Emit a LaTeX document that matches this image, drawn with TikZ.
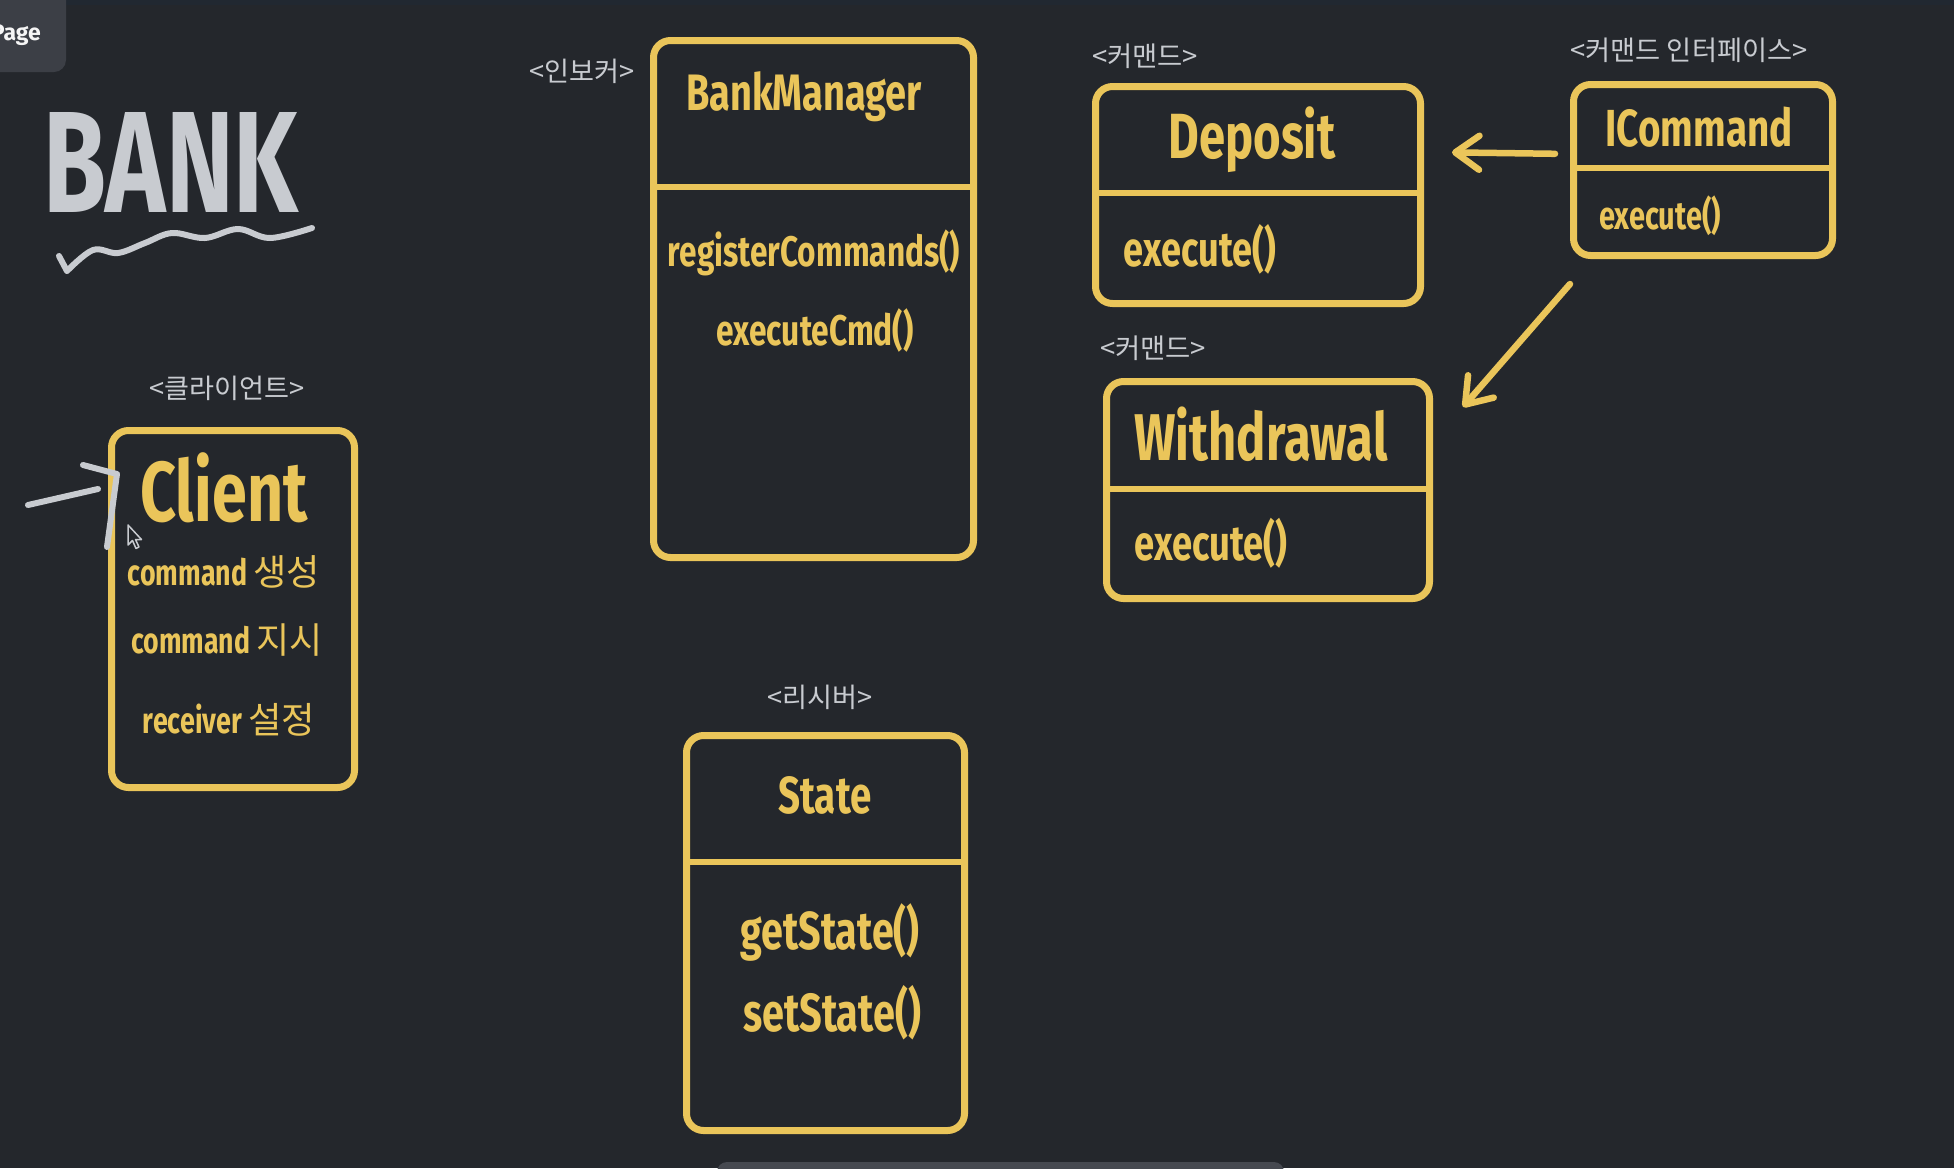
\documentclass[tikz,border=0pt]{standalone}
\usepackage{fontspec}
\setmainfont{Fira Sans}
\newfontfamily\hand{Fira Sans}[UprightFont=*-Bold, FakeBold=1.2]
\newfontfamily\kr{Noto Sans CJK KR}
\usetikzlibrary{arrows.meta}
\definecolor{bg}{RGB}{36,39,44}
\definecolor{topstrip}{RGB}{33,40,49}
\definecolor{ylw}{RGB}{234,197,90}
\definecolor{lgray}{RGB}{200,203,208}
\definecolor{tabgray}{RGB}{60,63,70}
\definecolor{bargray}{RGB}{70,73,80}
\newcommand\hw[2]{\resizebox{#1}{!}{\scalebox{0.74}[1]{\bfseries #2}}}
\newcommand\hwk[3]{\resizebox{#1}{!}{\scalebox{0.74}[1]{\bfseries #2}\,{\kr #3}}}
\newcommand\lbl[2]{\resizebox{#1}{!}{\kr #2}}
\tikzset{
  umlbox/.style={draw=ylw, line width=7pt, rounded corners=17pt, inner sep=0pt},
  divline/.style={draw=ylw, line width=6pt},
  ytext/.style={text=ylw, inner sep=0pt},
  gtext/.style={text=lgray, inner sep=0pt},
  arr/.style={draw=ylw, line width=6.5pt, line cap=round, line join=round,
    -{Straight Barb[length=24pt,width=34pt,round]}},
  gmark/.style={draw=lgray, line width=6pt, line cap=round, line join=round}
}
\begin{document}
\begin{tikzpicture}[x=1pt,y=-1pt]
\useasboundingbox (0,0) rectangle (1954,1168);
\fill[bg] (0,0) rectangle (1954,1168);
\fill[topstrip] (0,0) rectangle (1954,5);

% page tab
\fill[tabgray, rounded corners=12pt] (-20,-20) rectangle (66,72);
\node[anchor=east, text=white!92!gray, inner sep=0pt, font=\bfseries\fontsize{23}{23}\selectfont] (pg) at (41,35) {Page};

% bottom bar
\fill[bargray, rounded corners=10pt] (717,1162) rectangle (1284,1195);

% BANK title
\node[gtext] (bank) at (171,162) {\resizebox{255pt}{100pt}{\bfseries BANK}};
\draw[gmark] (59,256) -- (67,271) plot[smooth, tension=0.6] coordinates {(67,271) (93,250) (118,253) (145,243) (172,233) (205,238) (238,229) (270,238) (312,228)};

% client
\node[gtext] (lcl) at (227,388) {\lbl{155pt}{<클라이언트>}};
\node[umlbox, minimum width=243pt, minimum height=357pt] (cl) at (233,609) {};
\node[ytext] (tcl) at (224,488) {\hw{167pt}{Client}};
\node[ytext] (c1) at (224,572) {\hwk{192pt}{command}{생성}};
\node[ytext] (c2) at (227,640) {\hwk{191pt}{command}{지시}};
\node[ytext] (c3) at (229,720) {\hwk{172pt}{receiver}{설정}};
\draw[gmark] (28,505) -- (98,489);
\draw[gmark] (83,465) -- (117,474) -- (107,547);
\draw[lgray, fill=bg, line width=1.5pt, line join=round] (128,525) -- (128,545) -- (132.5,540.5) -- (136,548.5) -- (139,547) -- (135.5,539.5) -- (141.5,539.5) -- cycle;

% invoker
\node[gtext] (lbm) at (582,71) {\lbl{105pt}{<인보커>}};
\node[umlbox, minimum width=320pt, minimum height=517pt] (bm) at (813.5,299) {};
\coordinate (dvbm) at (0,187);
\draw[divline] (bm.west |- dvbm) -- (bm.east |- dvbm);
\node[ytext] (tbm) at (804,97) {\hw{236pt}{BankManager}};
\node[ytext] (bm1) at (814,253) {\hw{292pt}{registerCommands()}};
\node[ytext] (bm2) at (815,330) {\hw{197pt}{executeCmd()}};

% deposit
\node[gtext] (ldp) at (1145,56) {\lbl{106pt}{<커맨드>}};
\node[umlbox, minimum width=325pt, minimum height=217pt] (dp) at (1258,195) {};
\coordinate (dvdp) at (0,193);
\draw[divline] (dp.west |- dvdp) -- (dp.east |- dvdp);
\node[ytext] (tdp) at (1252,140) {\hw{167pt}{Deposit}};
\node[ytext] (dp1) at (1200,249) {\hw{152pt}{execute()}};

% icommand
\node[gtext] (lic) at (1689,50) {\lbl{237pt}{<커맨드 인터페이스>}};
\node[umlbox, minimum width=259pt, minimum height=171pt] (ic) at (1703,170) {};
\coordinate (dvic) at (0,168);
\draw[divline] (ic.west |- dvic) -- (ic.east |- dvic);
\node[ytext] (tic) at (1699,127) {\hw{187pt}{ICommand}};
\node[ytext] (ic1) at (1660,216) {\hw{122pt}{execute()}};

% withdrawal
\node[gtext] (lwd) at (1153,348) {\lbl{106pt}{<커맨드>}};
\node[umlbox, minimum width=323pt, minimum height=217pt] (wd) at (1268,490) {};
\coordinate (dvwd) at (0,489);
\draw[divline] (wd.west |- dvwd) -- (wd.east |- dvwd);
\node[ytext] (twd) at (1261,434) {\hw{253pt}{Withdrawal}};
\node[ytext] (wd1) at (1211,543) {\hw{153pt}{execute()}};

% receiver
\node[gtext] (lst) at (820,697) {\lbl{105pt}{<리시버>}};
\node[umlbox, minimum width=278pt, minimum height=395pt] (st) at (825.5,933) {};
\coordinate (dvst) at (0,862);
\draw[divline] (st.west |- dvst) -- (st.east |- dvst);
\node[ytext] (tst) at (825,795) {\hw{93pt}{State}};
\node[ytext] (st1) at (830,932) {\hw{179pt}{getState()}};
\node[ytext] (st2) at (832,1013) {\hw{178pt}{setState()}};

% arrows
\draw[arr, shorten <=15pt, shorten >=28pt] ([yshift=16pt]ic.west) -- ([yshift=43pt]dp.east);
\draw[arr] ([yshift=-25pt]ic.south west) -- ([xshift=30pt,yshift=-29pt]wd.north east);
\end{tikzpicture}
\end{document}
